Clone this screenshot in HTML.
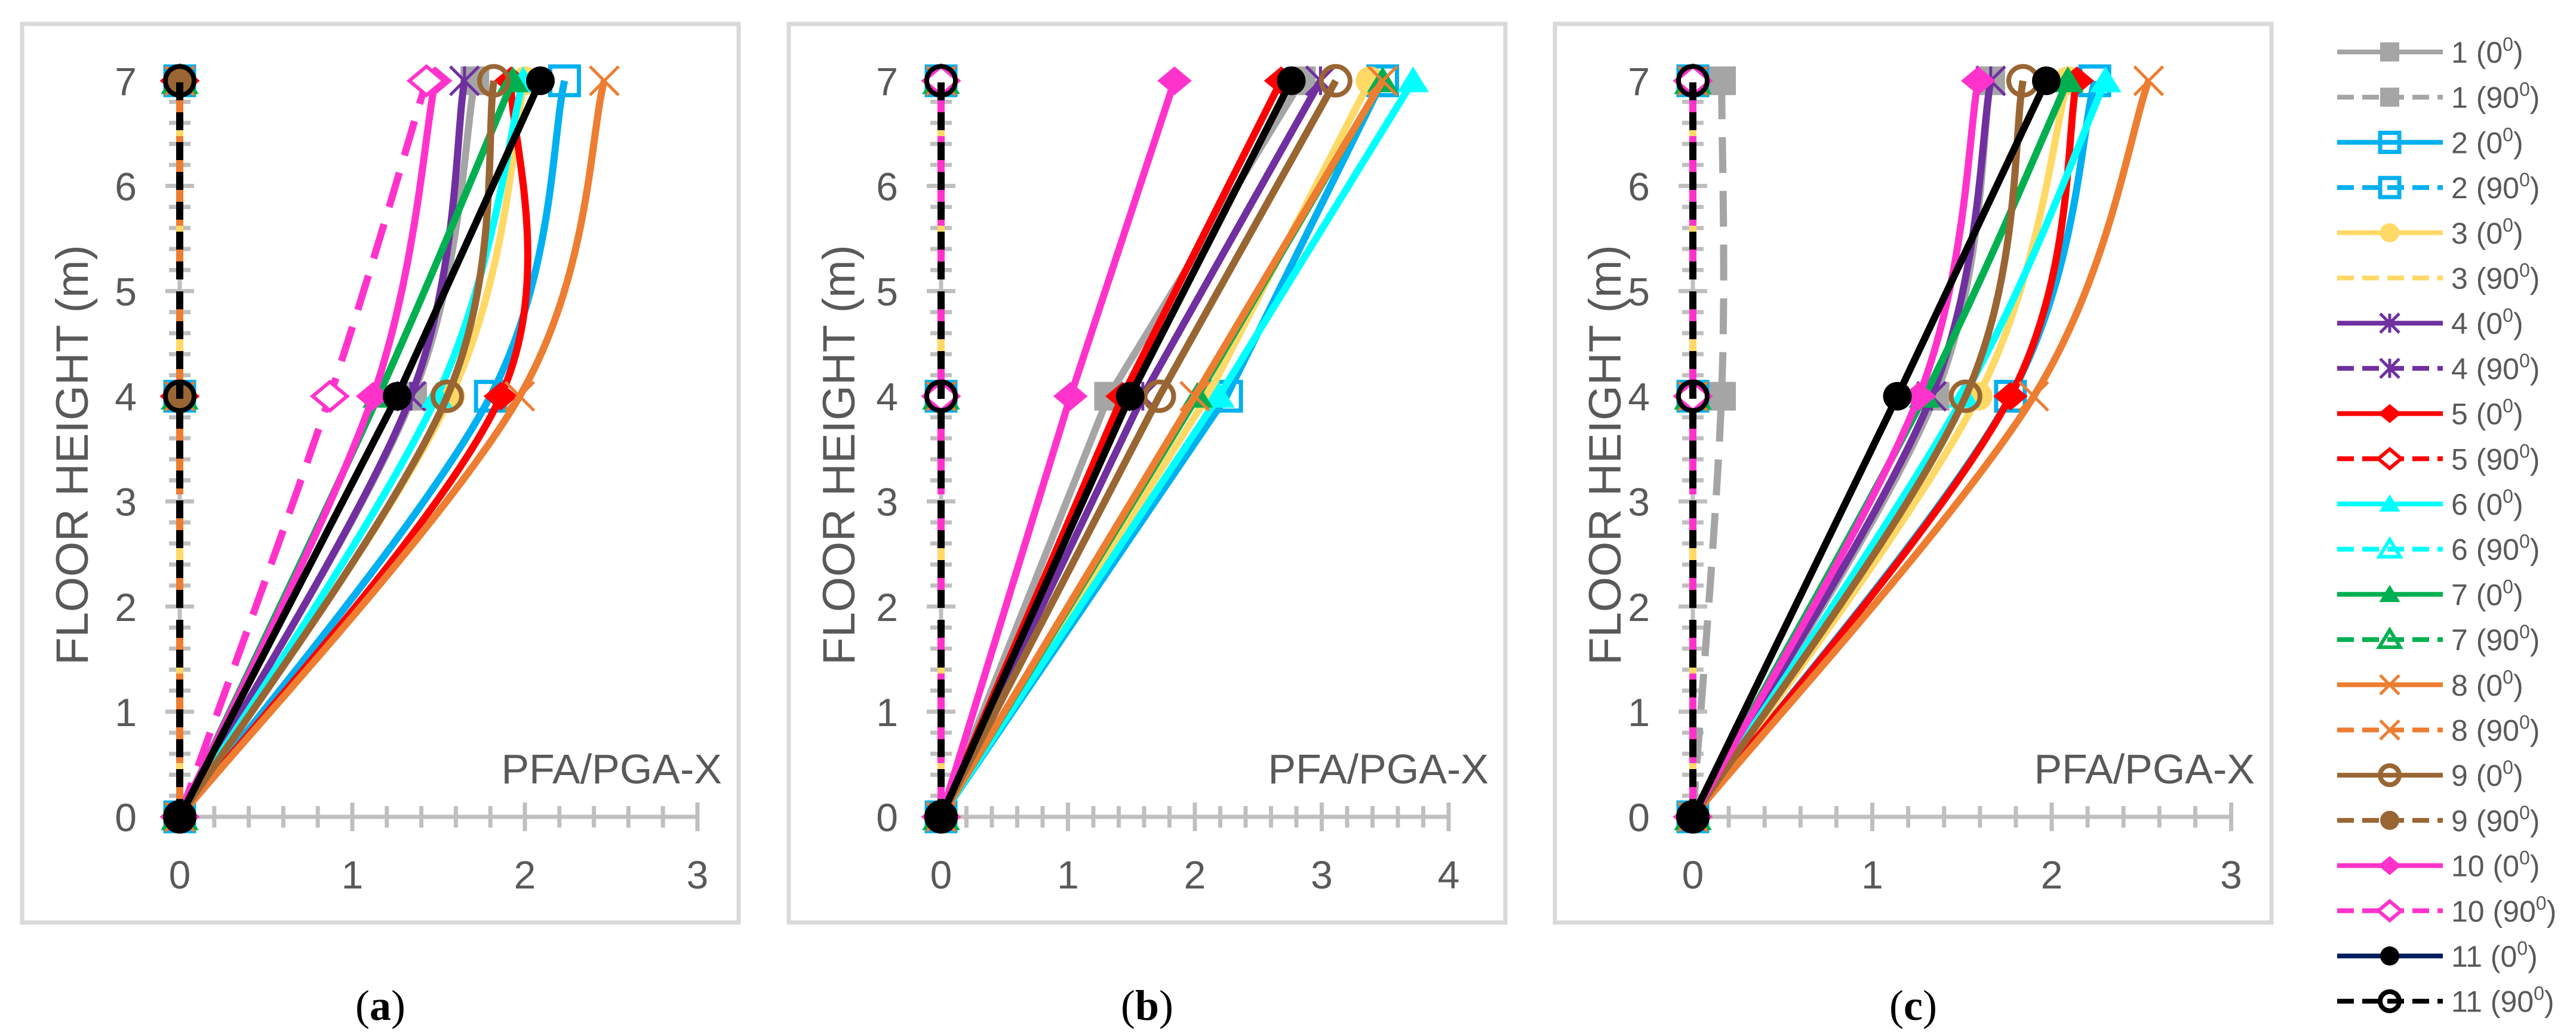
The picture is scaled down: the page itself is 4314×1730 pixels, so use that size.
<!DOCTYPE html>
<html><head><meta charset="utf-8"><style>
html,body{margin:0;padding:0;background:#fff;}
svg{display:block;font-family:"Liberation Sans",sans-serif;}
</style></head><body>
<svg id="c" width="4314" height="1730" viewBox="0 0 4314 1730" xmlns="http://www.w3.org/2000/svg"></svg>
<script>
// ---- data ----
const floors = [0, 4, 7];
const seriesNames = ["1 (0)","1 (90)","2 (0)","2 (90)","3 (0)","3 (90)","4 (0)","4 (90)","5 (0)","5 (90)","6 (0)","6 (90)","7 (0)","7 (90)","8 (0)","8 (90)","9 (0)","9 (90)","10 (0)","10 (90)","11 (0)","11 (90)"];
const panelAValues = [[0,1.35,1.71],[0,0,0],[0,1.80,2.23],[0,0,0],[0,1.57,2.00],[0,0,0],[0,1.34,1.65],[0,0,0],[0,1.86,1.92],[0,0,0],[0,1.49,1.99],[0,0,0],[0,1.15,1.93],[0,0,0],[0,1.97,2.46],[0,0,0],[0,1.55,1.82],[0,0,0],[0,1.12,1.48],[0,0.87,1.43],[0,1.26,2.09],[0,0,0]];
const panelBValues = [[0,1.32,2.84],[0,0,0],[0,2.25,3.48],[0,0,0],[0,2.10,3.38],[0,0,0],[0,1.59,2.99],[0,0,0],[0,1.43,2.68],[0,0,0],[0,2.19,3.72],[0,0,0],[0,2.02,3.48],[0,0,0],[0,2.00,3.48],[0,0,0],[0,1.72,3.11],[0,0,0],[0,1.02,1.84],[0,0,0],[0,1.49,2.76],[0,0,0]];
const panelCValues = [[0,1.35,1.66],[0,0.16,0.16],[0,1.77,2.24],[0,0,0],[0,1.59,2.09],[0,0,0],[0,1.33,1.66],[0,0,0],[0,1.77,2.14],[0,0,0],[0,1.51,2.30],[0,0,0],[0,1.29,2.09],[0,0,0],[0,1.90,2.54],[0,0,0],[0,1.52,1.84],[0,0,0],[0,1.26,1.59],[0,0,0],[0,1.14,1.97],[0,0,0]];
const xTicksA = [0,1,2,3];
const xTicksB = [0,1,2,3,4];
const yTicks = [0,1,2,3,4,5,6,7];

// ---- styles ----
const styles = [
 {c:"#a5a5a5",d:null,m:"sq",f:true},{c:"#a5a5a5",d:"60 30",m:"sq",f:true},
 {c:"#00b0f0",d:null,m:"sq",f:false},{c:"#00b0f0",d:"60 30",m:"sq",f:false},
 {c:"#ffd966",d:null,m:"ci",f:true},{c:"#ffd966",d:"40 30",m:null,f:true},
 {c:"#7030a0",d:null,m:"st",f:true},{c:"#7030a0",d:"60 30",m:"st",f:true},
 {c:"#ff0000",d:null,m:"di",f:true},{c:"#ff0000",d:"30 20",m:"di",f:false},
 {c:"#00ffff",d:null,m:"tr",f:true},{c:"#00ffff",d:"30 20",m:"tr",f:false},
 {c:"#00b050",d:null,m:"tr",f:true},{c:"#00b050",d:"30 20",m:"tr",f:false},
 {c:"#ed7d31",d:null,m:"x",f:true},{c:"#ed7d31",d:"60 30",m:"x",f:true},
 {c:"#996633",d:null,m:"ci",f:false},{c:"#996633",d:"30 20",m:"ci",f:true},
 {c:"#ff33cc",d:null,m:"di",f:true},{c:"#ff33cc",d:"60 30",m:"di",f:false},
 {c:"#000000",d:null,m:"ci",f:true},{c:"#000000",d:"30 20",m:"ci",f:false}
];
const NS="http://www.w3.org/2000/svg";
const svg=document.getElementById('c');
function el(tag,attrs,parent){const e=document.createElementNS(NS,tag);for(const k in attrs)e.setAttribute(k,attrs[k]);(parent||svg).appendChild(e);return e;}

function marker(g,type,x,y,s,col,fill){
  let e;
  if(type==="sq"){e=el('rect',{x:x-s,y:y-s,width:2*s,height:2*s,fill:fill?col:"none",stroke:col,'stroke-width':fill?0:7},g);}
  else if(type==="ci"){e=el('circle',{cx:x,cy:y,r:s,fill:fill?col:"none",stroke:col,'stroke-width':fill?0:8},g);}
  else if(type==="di"){e=el('polygon',{points:`${x},${y-s} ${x+s*1.2},${y} ${x},${y+s} ${x-s*1.2},${y}`,fill:fill?col:"#fff",stroke:col,'stroke-width':fill?0:6},g);}
  else if(type==="tr"){e=el('polygon',{points:`${x},${y-s} ${x+s*1.1},${y+s*0.8} ${x-s*1.1},${y+s*0.8}`,fill:fill?col:"none",stroke:col,'stroke-width':fill?0:6},g);}
  else if(type==="x"||type==="st"){e=el('path',{d:`M${x-s},${y-s}L${x+s},${y+s}M${x-s},${y+s}L${x+s},${y-s}`+(type==="st"?`M${x},${y-s}L${x},${y+s}`:""),stroke:col,'stroke-width':5,fill:"none"},g);}
  if(e){}
}

function smoothPath(pts){
  let d=`M${pts[0][0]},${pts[0][1]}`;
  for(let i=0;i<pts.length-1;i++){
    const p0=pts[i-1]||pts[i],p1=pts[i],p2=pts[i+1],p3=pts[i+2]||p2;
    const c1=[p1[0]+(p2[0]-p0[0])/6,p1[1]+(p2[1]-p0[1])/6];
    const c2=[p2[0]-(p3[0]-p1[0])/6,p2[1]-(p3[1]-p1[1])/6];
    d+=`C${c1[0]},${c1[1]} ${c2[0]},${c2[1]} ${p2[0]},${p2[1]}`;
  }
  return d;
}

function panel(cfg){
  const g=el('g',{});
  
  
  const fr=el('rect',{x:cfg.fx,y:40,width:1200,height:1505,fill:"#fff",stroke:"#d9d9d9",'stroke-width':7},g);
  
  const x0=cfg.ax, xMax=cfg.xTicks[cfg.xTicks.length-1], unit=cfg.unit;
  const X=v=>x0+v*unit, Y=v=>1368-v*176.1;
  const ya=el('line',{x1:x0,y1:Y(0),x2:x0,y2:Y(7),stroke:"#bfbfbf",'stroke-width':7},g);
  
  const xa=el('line',{x1:x0,y1:Y(0),x2:X(xMax),y2:Y(0),stroke:"#bfbfbf",'stroke-width':7},g);
  
  for(let i=0;i<=35;i++){const v=i*0.2,L=(i%5===0)?24:18;el('line',{x1:x0-L,x2:x0+L,y1:Y(v),y2:Y(v),stroke:"#bfbfbf",'stroke-width':7},g);}
  for(let i=1;i<=xMax*5;i++){const v=i*0.2,L=(i%5===0)?24:18;el('line',{x1:X(v),x2:X(v),y1:Y(0)-L,y2:Y(0)+L,stroke:"#bfbfbf",'stroke-width':7},g);}
  yTicks.forEach(t=>{const e=el('text',{x:x0-72,y:Y(t)+24,'text-anchor':"end",'font-size':66,fill:"#595959"},g);e.textContent=t;});
  cfg.xTicks.forEach(t=>{const e=el('text',{x:X(t),y:1488,'text-anchor':"middle",'font-size':66,fill:"#595959"},g);e.textContent=t;});
  const yt=el('text',{x:0,y:0,transform:`translate(${cfg.fx+110},762) rotate(-90)`,'text-anchor':"middle",'font-size':76,fill:"#595959"},g);
  yt.textContent="FLOOR HEIGHT (m)";
  const xt=el('text',{x:cfg.fx+1172,y:1312,'text-anchor':"end",'font-size':70,fill:"#595959"},g);
  xt.textContent="PFA/PGA-X";
  const cap=el('text',{x:cfg.fx+600,y:1708,'text-anchor':"middle",'font-size':72,fill:"#000",'font-family':'"Liberation Serif",serif'},g);
  cap.innerHTML=`(<tspan font-weight="bold">${cfg.label}</tspan>)`;
  for(let i=0;i<22;i++){
    const st=styles[i],vals=cfg.values[i];
    const pts=vals.map((v,k)=>[X(v),Y(floors[k])]);
    const smooth=cfg.smooth&&i!==20;
    const d=smooth?smoothPath(pts):"M"+pts.map(p=>p.join(",")).join("L");
    const p=el('path',{d,fill:"none",stroke:st.c,'stroke-width':12,'stroke-linejoin':"round"},g);
    if(st.d)p.setAttribute('stroke-dasharray',st.d);
    
    
    if(st.m)pts.forEach(q=>marker(g,st.m,q[0],q[1],24,st.c,st.f));
  }
}
panel({name:"panel-a",fx:37,ax:301,unit:289,xTicks:xTicksA,values:panelAValues,smooth:true,label:"a"});
panel({name:"panel-b",fx:1321,ax:1576,unit:212.5,xTicks:xTicksB,values:panelBValues,smooth:false,label:"b"});
panel({name:"panel-c",fx:2604,ax:2835,unit:300.5,xTicks:xTicksA,values:panelCValues,smooth:true,label:"c"});

// legend
const lg=el('g',{});


seriesNames.forEach((n,i)=>{
  const y=87+i*75.7,st=styles[i];
  const g=el('g',{},lg);
  
  
  const l=el('line',{x1:3914,x2:4091,y1:y,y2:y,stroke:(i===20?"#002060":st.c),'stroke-width':8},g);
  if(st.d)l.setAttribute('stroke-dasharray',"28 14");
  if(st.m)marker(g,st.m,4002,y,16,st.c,st.f);
  const [num,ang]=n.split(" (");
  const t=el('text',{x:4105,y:y+18,'font-size':50,fill:"#595959"},g);
  t.innerHTML=`${num} (${ang.replace(")","")}<tspan dy="-20" font-size="32">0</tspan><tspan dy="20">)</tspan>`;
});
</script>
</body></html>
